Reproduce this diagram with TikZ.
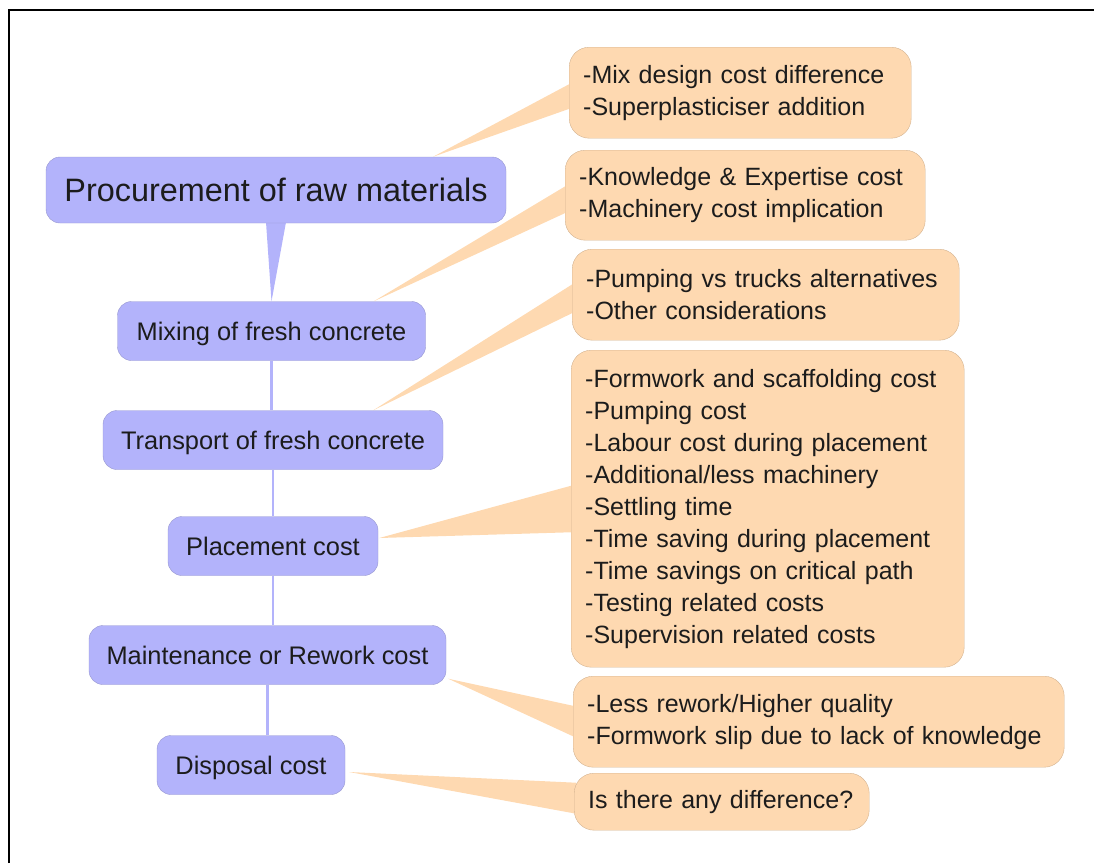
\documentclass[tikz,border=0pt]{standalone}
\usepackage{fontspec}
\setmainfont{Liberation Sans}
\usetikzlibrary{calc,backgrounds}

\definecolor{stagefill}{HTML}{B3B3FB}
\definecolor{stagedraw}{HTML}{9797CF}
\definecolor{detailfill}{HTML}{FED9B1}
\definecolor{detaildraw}{HTML}{D4B390}
\definecolor{textgray}{HTML}{1C1C1C}

\tikzset{
  stage/.style={draw=stagedraw, fill=stagefill, rounded corners=14pt, text=textgray,
    font=\fontsize{25.4}{32}\selectfont, inner sep=0pt, minimum height=59pt,
    text height=22pt, text depth=4pt},
  detail/.style={draw=detaildraw, fill=detailfill, rounded corners=20pt, text=textgray,
    font=\fontsize{25}{32}\selectfont, align=left, inner xsep=14pt, inner ysep=0pt,
    anchor=north west},
  wedge/.style={fill=detailfill, draw=none},
  link/.style={draw=stagefill, line width=2.5pt},
}

\begin{document}
\begin{tikzpicture}[x=1pt, y=-1pt]
\useasboundingbox (0,0) rectangle (1094,863);

% Rahmen
\draw[line width=2.5pt] (9,863) -- (9,10) -- (1094,10);

% Kostenstufen
\node[stage, minimum width=460pt, minimum height=66pt, text height=26pt,
  font=\fontsize{32.4}{40}\selectfont] (proc) at (276,190) {Procurement of raw materials};
\node[stage, minimum width=308pt] (mix) at (271.5,331) {Mixing of fresh concrete};
\node[stage, minimum width=340pt] (trans) at (273,440) {Transport of fresh concrete};
\node[stage, minimum width=210pt] (place) at (273,546) {Placement cost};
\node[stage, minimum width=357pt] (maint) at (267.5,655) {Maintenance or Rework cost};
\node[stage, minimum width=188pt] (disp) at (251,765) {Disposal cost};

% Details
\node[detail, text width=314pt, minimum height=91pt] (procdet) at (569,47)
  {-Mix design cost difference\\-Superplasticiser addition};
\node[detail, text width=332pt, minimum height=90pt] (mixdet) at (565,150)
  {-Knowledge \& Expertise cost\\-Machinery cost implication};
\node[detail, text width=359pt, minimum height=91pt] (transdet) at (572,249)
  {-Pumping vs trucks alternatives\\-Other considerations};
\node[detail, text width=365pt, minimum height=317pt] (placedet) at (571,350)
  {-Formwork and scaffolding cost\\-Pumping cost\\-Labour cost during placement\\
   -Additional/less machinery\\-Settling time\\-Time saving during placement\\
   -Time savings on critical path\\-Testing related costs\\-Supervision related costs};
\node[detail, text width=463pt, minimum height=91pt] (maintdet) at (573,676)
  {-Less rework/Higher quality\\-Formwork slip due to lack of knowledge};
\node[detail, text width=267pt, minimum height=57pt] (dispdet) at (574,773)
  {Is there any difference?};

% Verbindungen
\begin{scope}[on background layer]
  \fill[stagefill] ($(proc.south)+(-10,-1)$) -- ($(proc.south)+(10,-1)$) -- (mix.north) -- cycle;
  \draw[link] (mix.south) -- (mix.south |- trans.north);
  \draw[link] (trans.south) -- (place.north);
  \draw[link] (place.south) -- (place.south |- maint.north);
  \draw[link] (maint.south) -- (maint.south |- disp.north);

  \fill[wedge] ($(proc.north)+(157,0)$) -- ($(procdet.west)+(2,-9.5)$) -- ($(procdet.west)+(2,15.5)$) -- cycle;
  \fill[wedge] ($(mix.north east)+(-52,0)$) -- ($(mixdet.west)+(2,-10)$) -- ($(mixdet.west)+(2,17)$) -- cycle;
  \fill[wedge] ($(trans.north east)+(-70,0)$) -- ($(transdet.west)+(2,-11.5)$) -- ($(transdet.west)+(2,17.5)$) -- cycle;
  \fill[wedge] ($(place.east)+(1,-8)$) -- ($(placedet.west)+(2,-23.5)$) -- ($(placedet.west)+(2,23.5)$) -- cycle;
  \fill[wedge] ($(maint.south east)+(2,-6)$) -- ($(maintdet.west)+(2,-15.5)$) -- ($(maintdet.west)+(2,15.5)$) -- cycle;
  \fill[wedge] ($(disp.east)+(4,7)$) -- ($(dispdet.west)+(2,-19)$) -- ($(dispdet.west)+(2,12)$) -- cycle;
\end{scope}
\end{tikzpicture}
\end{document}
